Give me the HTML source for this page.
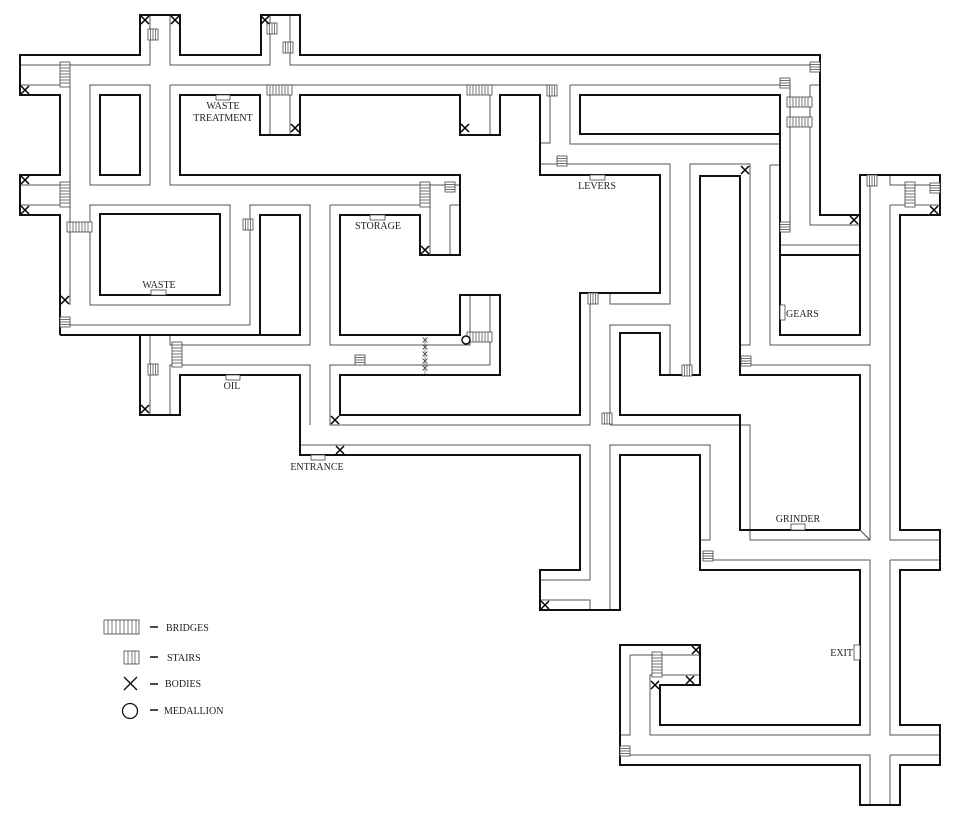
<!DOCTYPE html>
<html><head><meta charset="utf-8"><style>
html,body{margin:0;padding:0;background:#fff}
svg{display:block}
text{font-family:"Liberation Serif",serif;font-size:10px;fill:#222}
</style></head><body>
<svg width="962" height="825" viewBox="0 0 962 825" xmlns="http://www.w3.org/2000/svg">
<defs>
<g id="sv"><rect x="0" y="0" width="10" height="11" fill="#fff" stroke="#444" stroke-width="0.8"/><path d="M2.5 0V11M5 0V11M7.5 0V11" stroke="#444" stroke-width="0.7"/></g>
<g id="sh"><rect x="0" y="0" width="10" height="10" fill="#fff" stroke="#444" stroke-width="0.8"/><path d="M0 2.5H10M0 5H10M0 7.5H10" stroke="#444" stroke-width="0.7"/></g>
<g id="bh"><rect x="0" y="0" width="25" height="10" fill="#fff" stroke="#444" stroke-width="0.8"/><path d="M3 0V10M6 0V10M9 0V10M12 0V10M15 0V10M18 0V10M21 0V10" stroke="#444" stroke-width="0.7"/></g>
<g id="bv"><rect x="0" y="0" width="10" height="25" fill="#fff" stroke="#444" stroke-width="0.8"/><path d="M0 3H10M0 6H10M0 9H10M0 12H10M0 15H10M0 18H10M0 21H10" stroke="#444" stroke-width="0.7"/></g>
<g id="x"><path d="M-4 -4L4 4M4 -4L-4 4" stroke="#000" stroke-width="1.5"/></g>
<g id="sx"><path d="M-2.5 -2.5L2.5 2.5M2.5 -2.5L-2.5 2.5" stroke="#333" stroke-width="0.8"/></g>
</defs>

<!-- thin inner walls -->
<g fill="none" stroke="#555" stroke-width="1">
<path d="M20 65H150V15M170 15V65H270V15M290 15V65H820"/>
<path d="M20 85H70V305M20 185H70M20 205H70"/>
<path d="M90 85H150V185H90Z"/>
<path d="M170 85H550V143H540M170 85V185H460"/>
<path d="M270 85V135M290 85V135M490 85V135"/>
<path d="M430 185V255M450 205V255M450 205H460"/>
<path d="M90 205H230V305H90Z"/>
<path d="M60 325H250V205H310V345H170V335"/>
<path d="M150 335V415M170 415V365H310V425"/>
<path d="M330 205H420M330 205V345H470V295M490 295V365H330V425H590V293"/>
<path d="M300 445H590V580H540M540 600H590V610M610 610V445H710V540H700"/>
<path d="M610 420V325H670V375M610 425H750V540H870V400"/>
<path d="M540 164H670V304H610V293"/>
<path d="M690 375V164H750V345H740"/>
<path d="M770 165H780M770 165V345H870V175"/>
<path d="M740 365H870V540M570 85H790V227M570 85V144H780M810 85H820M810 85V225H860M780 245H860"/>
<path d="M890 175V185H940M890 205H940M890 205V540H940M890 560H940M890 560V735H940M890 755H940M890 755V805"/>
<path d="M870 805V755H620M650 735H870V560H710M650 735V675H700M630 655H700M630 655V735H620"/>
</g>

<!-- thick outer walls -->
<g fill="none" stroke="#111" stroke-width="2">
<path d="M60 335V215H20V175H60V95H20V55H140V15H180V55H261V15H300V55H820V215H860V175H940V215H900V530H940V570H900V725H940V765H900V805H860V765H620V645H700V685H660V725H860V570H700V455H620V610H540V570H580V455H300V375H180V415H140V335H60M140 335H300"/>
<rect x="100" y="95" width="40" height="80"/>
<rect x="100" y="214" width="120" height="81"/>
<rect x="260" y="215" width="40" height="120"/>
<path d="M180 95H260V135H300V95H460V135H500V95H540V175H660V293H580V415H340V375H500V295H460V335H340V215H420V255H460V175H180Z"/>
<rect x="580" y="95" width="200" height="39"/>
<path d="M780 95V335H860V175M780 255H860"/>
<path d="M700 176H740V375H860V530H740V415H620V333H660V375H700Z"/>
</g>
<path d="M860 530L870 540" stroke="#444" stroke-width="1"/>

<!-- bridges -->
<use href="#bv" x="60" y="62"/><use href="#bv" x="60" y="182"/>
<use href="#bh" x="67" y="222"/><use href="#bh" x="267" y="85"/><use href="#bh" x="467" y="85"/>
<use href="#bv" x="172" y="342"/><use href="#bv" x="420" y="182"/>
<use href="#bh" x="467" y="332"/>
<use href="#bh" x="787" y="97"/><use href="#bh" x="787" y="117"/>
<use href="#bv" x="905" y="182"/><use href="#bv" x="652" y="652"/>

<!-- stairs -->
<use href="#sv" x="148" y="29"/><use href="#sv" x="267" y="23"/><use href="#sv" x="283" y="42"/>
<use href="#sv" x="148" y="364"/><use href="#sv" x="243" y="219"/><use href="#sv" x="547" y="85"/>
<use href="#sv" x="588" y="293"/><use href="#sv" x="682" y="365"/><use href="#sv" x="602" y="413"/>
<use href="#sv" x="867" y="175"/>
<use href="#sh" x="557" y="156"/><use href="#sh" x="445" y="182"/><use href="#sh" x="355" y="355"/>
<use href="#sh" x="60" y="317"/><use href="#sh" x="703" y="551"/><use href="#sh" x="620" y="746"/>
<use href="#sh" x="780" y="78"/><use href="#sh" x="810" y="62"/><use href="#sh" x="780" y="222"/>
<use href="#sh" x="741" y="356"/><use href="#sh" x="930" y="183"/>

<!-- bodies -->
<use href="#x" x="25" y="90"/><use href="#x" x="25" y="180"/><use href="#x" x="25" y="210"/>
<use href="#x" x="145" y="20"/><use href="#x" x="175" y="20"/><use href="#x" x="265" y="20"/>
<use href="#x" x="295" y="128"/><use href="#x" x="465" y="128"/><use href="#x" x="425" y="250"/>
<use href="#x" x="65" y="300"/><use href="#x" x="145" y="409"/><use href="#x" x="335" y="420"/>
<use href="#x" x="340" y="450"/><use href="#x" x="545" y="605"/><use href="#x" x="745" y="170"/>
<use href="#x" x="854" y="220"/><use href="#x" x="934" y="210"/>
<use href="#x" x="696" y="650"/><use href="#x" x="690" y="680"/><use href="#x" x="655" y="685"/>
<use href="#sx" x="425" y="340"/><use href="#sx" x="425" y="347"/><use href="#sx" x="425" y="354"/><use href="#sx" x="425" y="361"/><use href="#sx" x="425" y="368"/>
<line x1="425" y1="338" x2="425" y2="374" stroke="#555" stroke-width="0.6"/>
<circle cx="466" cy="340" r="4" fill="#fff" stroke="#111" stroke-width="1.5"/>

<!-- doors -->
<g fill="#fff" stroke="#444" stroke-width="0.8">
<rect x="216" y="95" width="14" height="5"/><rect x="370" y="215" width="15" height="5"/>
<rect x="151" y="290" width="15" height="5"/><rect x="590" y="175" width="15" height="5"/>
<rect x="226" y="375" width="14" height="5"/><rect x="311" y="455" width="14" height="5"/>
<rect x="791" y="524" width="14" height="6"/><rect x="780" y="305" width="5" height="15"/>
<rect x="854" y="645" width="6" height="15"/>
</g>

<!-- labels -->
<text x="223" y="109" text-anchor="middle">WASTE</text>
<text x="223" y="121" text-anchor="middle">TREATMENT</text>
<text x="378" y="229" text-anchor="middle">STORAGE</text>
<text x="159" y="288" text-anchor="middle">WASTE</text>
<text x="597" y="189" text-anchor="middle">LEVERS</text>
<text x="786" y="317">GEARS</text>
<text x="232" y="389" text-anchor="middle">OIL</text>
<text x="317" y="470" text-anchor="middle">ENTRANCE</text>
<text x="798" y="522" text-anchor="middle">GRINDER</text>
<text x="853" y="656" text-anchor="end">EXIT</text>

<!-- legend -->
<rect x="104" y="620" width="35" height="14" fill="#fff" stroke="#444" stroke-width="0.8"/>
<path d="M108 620V634M112 620V634M116 620V634M120 620V634M124 620V634M128 620V634M132 620V634M136 620V634" stroke="#444" stroke-width="0.7"/>
<rect x="124" y="651" width="15" height="13" fill="#fff" stroke="#444" stroke-width="0.8"/>
<path d="M128 651V664M132 651V664M135 651V664" stroke="#444" stroke-width="0.7"/>
<path d="M124 677L137 690M137 677L124 690" stroke="#111" stroke-width="1.4"/>
<circle cx="130" cy="711" r="7.5" fill="none" stroke="#111" stroke-width="1.3"/>
<g stroke="#111" stroke-width="1.5"><path d="M150 627H158M150 657H158M150 684H158M150 710H158"/></g>
<text x="166" y="631">BRIDGES</text>
<text x="167" y="661">STAIRS</text>
<text x="165" y="687">BODIES</text>
<text x="164" y="714">MEDALLION</text>
</svg>
</body></html>
